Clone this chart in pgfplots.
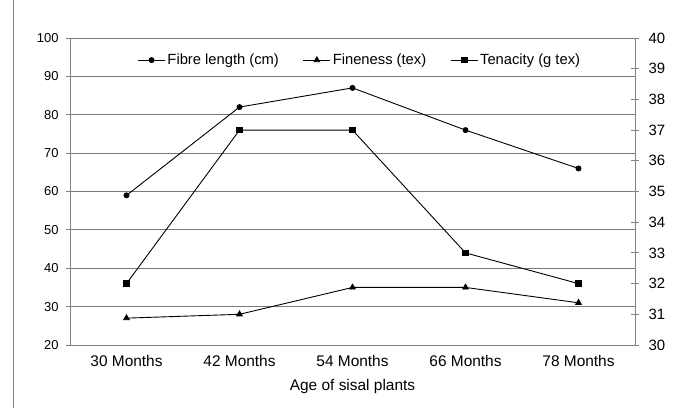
\documentclass[border=0pt]{standalone}
\usepackage{fontspec}
\setmainfont{Liberation Sans}
\usepackage{pgfplots}
\pgfplotsset{compat=1.18}
\definecolor{axgray}{RGB}{128,128,128}
\definecolor{gridgray}{RGB}{120,120,120}
\pgfplotsset{
  common/.style={
    scale only axis, width=565bp, height=307bp,
    xmin=-0.5, xmax=4.5,
    font=\fontsize{13}{15}\selectfont,
    /pgf/number format/assume math mode=true,
    axis line style={axgray, line width=0.9bp},
    every tick/.style={axgray, line width=0.9bp},
    major tick length=4bp,
    minor tick length=4bp,
  },
  serline/.style={black, line width=0.9bp},
}
\begin{document}
\begin{tikzpicture}
\useasboundingbox (-70bp,-63bp) rectangle (608bp,345bp);
\draw[axgray, line width=0.9bp] (-57bp,-63bp) -- (-57bp,345bp);
\begin{axis}[common,
  axis y line*=left, axis x line*=bottom,
  ymin=20, ymax=100, ytick={20,30,...,100},
  ymajorgrids, grid style={gridgray, line width=0.8bp},
  tick align=outside,
  xtick={0,1,2,3,4},
  xticklabels={30 Months,42 Months,54 Months,66 Months,78 Months},
  minor xtick={-0.5,0.5,1.5,2.5,3.5,4.5},
  xtick style={draw=none},
  minor tick style={axgray, line width=0.9bp},
  xminorgrids=false,
  xticklabel style={yshift=-3bp, font=\fontsize{15.5}{17}\selectfont},
  yticklabel style={xshift=-4bp},
  xlabel={Age of sisal plants},
  xlabel style={yshift=-6bp, font=\fontsize{15.5}{17}\selectfont},
  legend columns=3,
  legend style={at={(0.513,0.928)}, anchor=center, draw=none, fill=white,
    font=\fontsize{14.8}{16}\selectfont,
    /tikz/every even column/.append style={column sep=22bp}},
  legend image code/.code={\draw[#1, mark repeat=2, mark phase=2] plot coordinates {(0bp,0bp) (13.5bp,0bp) (27bp,0bp)};},
]
\addplot[serline, mark=*, mark size=2.5bp] coordinates {(0,59) (1,82) (2,87) (3,76) (4,66)};
\addlegendentry{Fibre length (cm)}
\addplot[serline, mark=triangle*, mark size=3.2bp] coordinates {(0,27) (1,28) (2,35) (3,35) (4,31)};
\addlegendentry{Fineness (tex)}
\addlegendimage{serline, mark=square*, mark size=2.8bp}
\addlegendentry{Tenacity (g tex)}
\end{axis}
\begin{axis}[common,
  axis y line*=right, axis x line=none,
  ymin=30, ymax=40, ytick={30,31,...,40},
  tick align=center,
  major tick length=8bp,
  yticklabel style={xshift=6bp, font=\fontsize{15}{17}\selectfont},
]
\addplot[serline, mark=square*, mark size=2.8bp] coordinates {(0,32) (1,37) (2,37) (3,33) (4,32)};
\end{axis}
\end{tikzpicture}
\end{document}
